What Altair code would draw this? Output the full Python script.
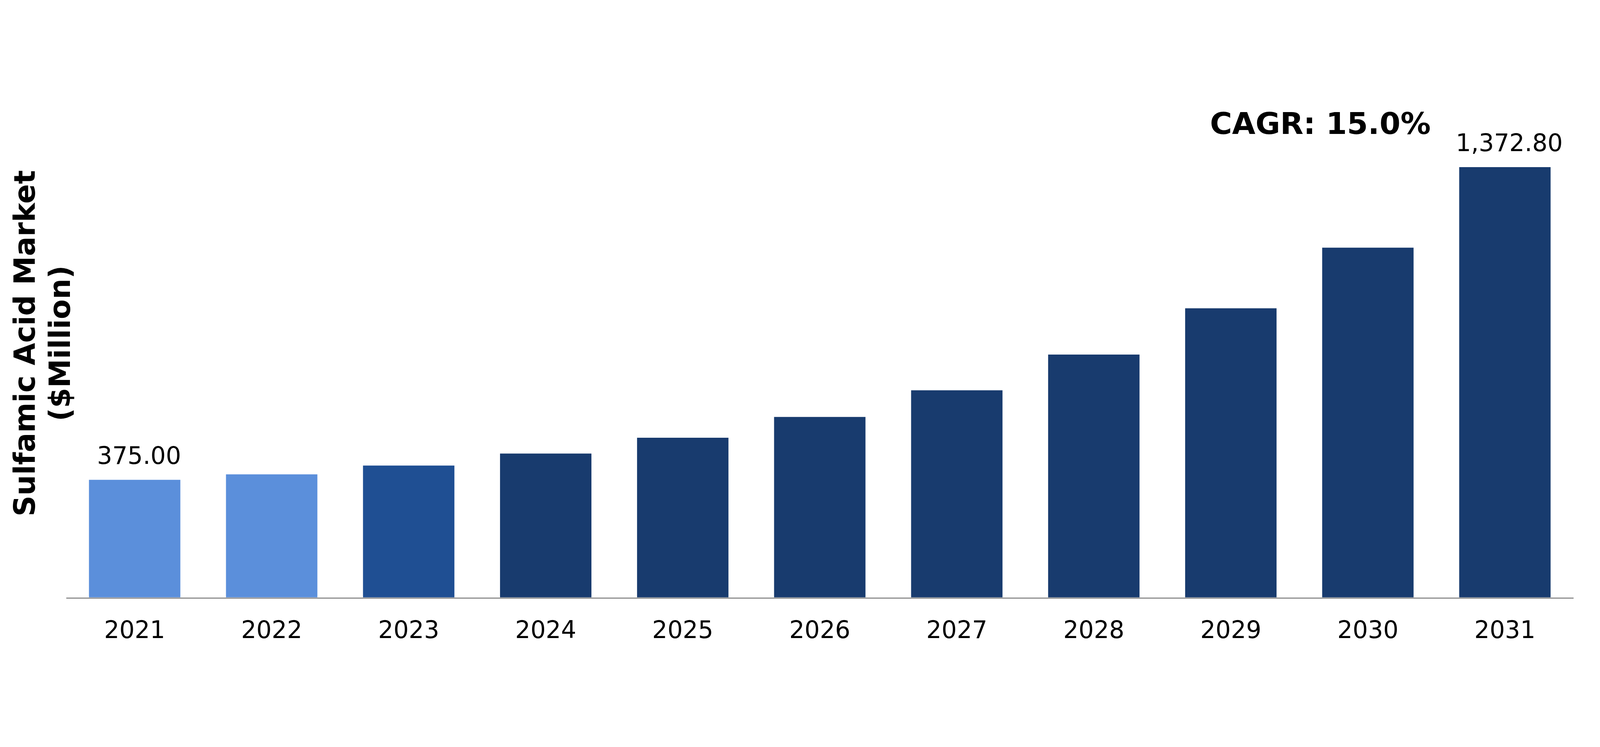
import pandas as pd
import altair as alt

years = ["2021", "2022", "2023", "2024", "2025", "2026", "2027", "2028", "2029", "2030", "2031"]
market = [375.0, 392.5, 420.5, 458.8, 509.3, 575.6, 660.7, 774.7, 922.3, 1115.8, 1372.8]
bar_colors = ["#5B8FDB", "#5B8FDB", "#1F4F93", "#183B6E", "#183B6E", "#183B6E",
              "#183B6E", "#183B6E", "#183B6E", "#183B6E", "#183B6E"]
labeled_years = ["2021", "2031"]
cagr_text = "CAGR: 15.0%"
y_title = ["Sulfamic Acid Market", "($Million)"]

df = pd.DataFrame({"year": years, "value": market})
df["show"] = df["year"].isin(labeled_years)

x_enc = alt.X(
    "year:N",
    sort=years,
    title=None,
    scale=alt.Scale(paddingInner=0.333, paddingOuter=0.1667),
    axis=alt.Axis(
        labelAngle=0,
        labelFont="DejaVu Sans",
        labelFontSize=82,
        labelColor="#000000",
        labelBaseline="alphabetic",
        labelPadding=137,
        labelLimit=0,
        ticks=False,
        tickSize=0,
        domainColor="#8C8C8C",
        domainWidth=4,
        offset=2,
        grid=False,
    ),
)

y_enc = alt.Y(
    "value:Q",
    scale=alt.Scale(domain=[0, 1400], nice=False),
    axis=alt.Axis(
        title=y_title,
        labels=False,
        ticks=False,
        domain=False,
        grid=False,
        titleFont="DejaVu Sans",
        titleFontSize=99,
        titleFontWeight="bold",
        titleColor="#000000",
        titleAngle=-90,
        titleAlign="center",
        titleBaseline="alphabetic",
        titleLineHeight=120,
        titleLimit=0,
        titleX=-107,
        titleY=630,
    ),
)

bars = alt.Chart(df).mark_bar().encode(
    x=x_enc,
    y=y_enc,
    color=alt.Color("year:N", scale=alt.Scale(domain=years, range=bar_colors), legend=None),
)

labels = alt.Chart(df).transform_filter(
    alt.datum.show
).mark_text(
    font="DejaVu Sans",
    fontSize=82,
    color="#000000",
    baseline="alphabetic",
    align="center",
    dy=-55,
    dx=15,
).encode(
    x=alt.X("year:N", sort=years),
    y="value:Q",
    text=alt.Text("value:Q", format=",.2f"),
)

cagr = alt.Chart(pd.DataFrame({"t": [cagr_text]})).mark_text(
    font="DejaVu Sans",
    fontSize=103,
    fontWeight="bold",
    color="#000000",
    align="center",
    baseline="alphabetic",
).encode(
    x=alt.value(4281),
    y=alt.value(-84),
    text="t:N",
)

chart = alt.layer(bars, labels, cagr).properties(
    width=5440,
    height=1890,
    autosize=alt.AutoSizeParams(type="fit", contains="padding"),
    padding={"left": 29, "top": 50, "right": 80, "bottom": 21},
    background="#FFFFFF",
).configure_view(stroke=None)

chart.save("out.html", embed_options={"renderer": "svg", "actions": False})
